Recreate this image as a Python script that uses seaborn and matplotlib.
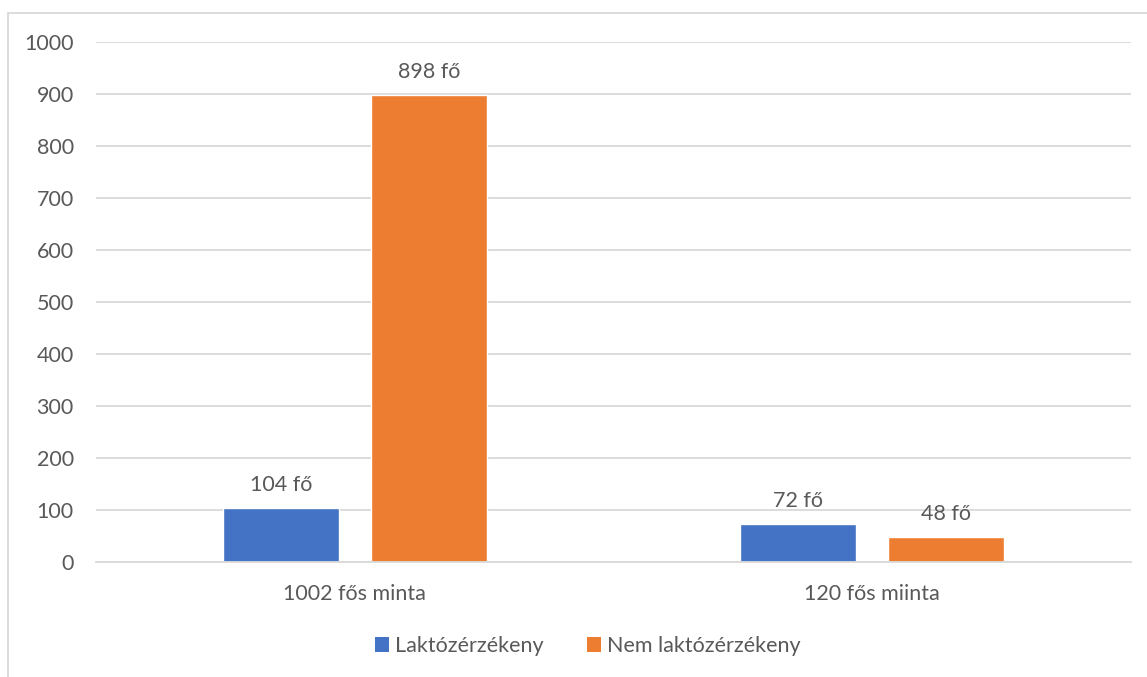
import matplotlib
matplotlib.use("Agg")
import matplotlib.pyplot as plt
from matplotlib.patches import Rectangle, Patch
import seaborn as sns
import pandas as pd

# Data
samples = ["1002 fős minta", "120 fős miinta"]
groups = ["Laktózérzékeny", "Nem laktózérzékeny"]
lactose_intolerant = [104, 72]
not_intolerant = [898, 48]
yticks = [0, 100, 200, 300, 400, 500, 600, 700, 800, 900, 1000]

colors = ["#4472C4", "#ED7D31"]
text_color = "#595959"
grid_color = "#D9D9D9"
fs = 15.5

df = pd.DataFrame({
    "minta": samples * 2,
    "csoport": [groups[0]] * len(samples) + [groups[1]] * len(samples),
    "fo": lactose_intolerant + not_intolerant,
})

sns.set_theme(style="white")
plt.rcParams["font.family"] = ["Lato", "DejaVu Sans"]

W, H = 1147, 677
fig = plt.figure(figsize=(W / 100, H / 100), dpi=100)
ax = fig.add_axes([96 / W, 1 - 561.7 / H, (1131 - 96) / W, (561.7 - 41.7) / H])

sns.barplot(data=df, x="minta", y="fo", hue="csoport", order=samples,
            hue_order=groups, palette=colors, width=0.572, gap=0.217,
            saturation=1, ax=ax, legend=False)

ax.set_ylim(0, 1000)
ax.set_xlim(-0.5, 1.5)
ax.set_yticks(yticks)
ax.set_yticklabels([str(v) for v in yticks])
ax.yaxis.grid(True, color=grid_color, linewidth=1.3)
ax.set_axisbelow(True)
for s in ["top", "right", "left"]:
    ax.spines[s].set_visible(False)
ax.spines["bottom"].set_color(grid_color)
ax.spines["bottom"].set_linewidth(1.3)
ax.tick_params(axis="both", length=0, labelsize=fs, labelcolor=text_color)
ax.tick_params(axis="y", pad=16)
ax.tick_params(axis="x", pad=16)
ax.set_xlabel("")
ax.set_ylabel("")

# value labels above bars
for container in ax.containers:
    for bar in container:
        h = bar.get_height()
        ax.annotate(f"{int(round(h))} fő", (bar.get_x() + bar.get_width() / 2, h),
                    xytext=(0, 13), textcoords="offset pixels",
                    ha="center", va="bottom", fontsize=fs, color=text_color)

handles = [Patch(facecolor=c, edgecolor="none") for c in colors]
fig.legend(handles, groups, loc="center", bbox_to_anchor=(588 / W, 1 - 646 / H),
           ncol=2, frameon=False, fontsize=fs, labelcolor=text_color,
           handlelength=0.65, handleheight=0.65, handletextpad=0.3,
           columnspacing=2.0)

# chart area border
fig.patches.append(Rectangle((8 / W, -0.1), 1.2, 1 - 12.5 / H + 0.1,
                             transform=fig.transFigure, fill=False,
                             edgecolor=grid_color, linewidth=1.3))

fig.savefig("out.png", dpi=100)
